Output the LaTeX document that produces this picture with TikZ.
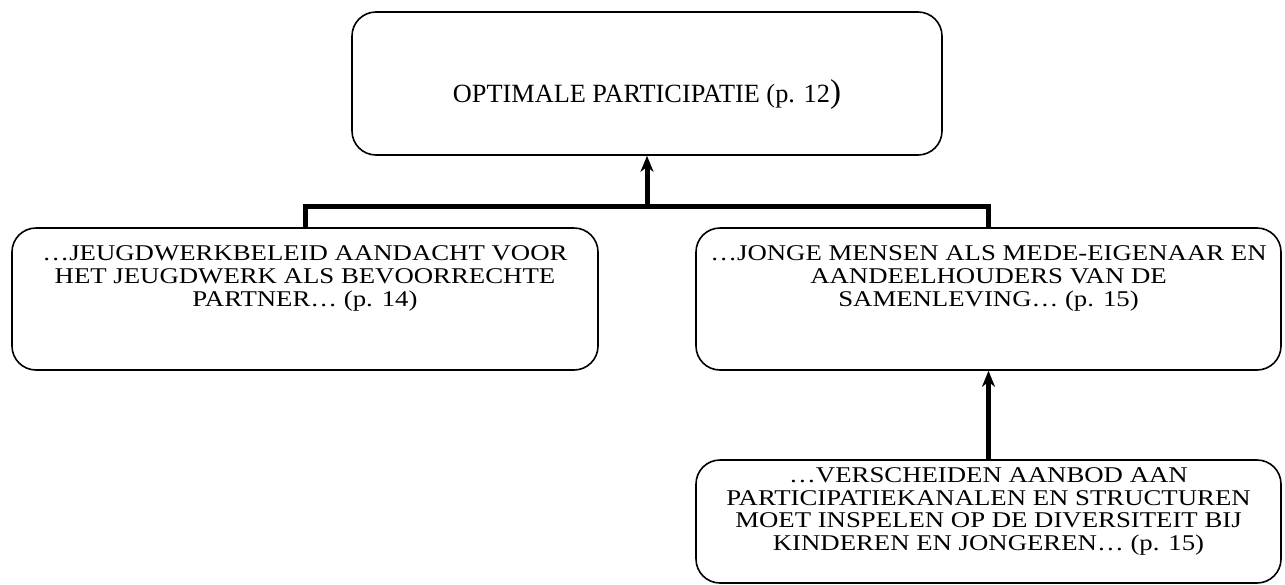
\documentclass[tikz,border=0pt]{standalone}
\usepackage{fontspec}
\setmainfont{Liberation Serif}
\newfontfamily\boxfont[FakeStretch=1.19]{Liberation Serif}
\usetikzlibrary{arrows.meta}
\begin{document}
\begin{tikzpicture}[x=1pt,y=-1pt,
  card/.style={draw,line width=1.6pt,rounded corners=24pt,inner sep=0pt},
  txt/.style={align=center,anchor=north,inner sep=0pt,font=\boxfont\fontsize{22.5}{23.3}\selectfont},
  link/.style={line width=5pt,line join=miter},
  up/.style={link,-{Stealth[length=16pt,width=13pt,inset=5pt]}}]
\useasboundingbox (0,0) rectangle (1285,584);

% boxes
\node[card,minimum width=590pt,minimum height=143pt] (top) at (647,83.5) {};
\node[card,minimum width=586pt,minimum height=142pt] (left) at (305,299) {};
\node[card,minimum width=585pt,minimum height=142pt] (right) at (988.5,299) {};
\node[card,minimum width=585pt,minimum height=123pt] (bot) at (988.5,521.5) {};

% texts
\node[anchor=base,inner sep=0pt,font=\fontsize{26.3}{28}\selectfont] (toptext) at ([yshift=-91pt]top.north)
  {OPTIMALE PARTICIPATIE (p. 12{\fontsize{33}{33}\selectfont )}};
\node[txt] (lefttext) at ([yshift=-18pt]left.north)
  {…JEUGDWERKBELEID AANDACHT VOOR\\HET JEUGDWERK ALS BEVOORRECHTE\\PARTNER… (p. 14)};
\node[txt] (righttext) at ([yshift=-18pt]right.north)
  {…JONGE MENSEN ALS MEDE-EIGENAAR EN\\AANDEELHOUDERS VAN DE\\SAMENLEVING… (p. 15)};
\node[txt,font=\boxfont\fontsize{22.5}{22.7}\selectfont] (bottext) at ([yshift=-8pt]bot.north)
  {…VERSCHEIDEN AANBOD AAN\\PARTICIPATIEKANALEN EN STRUCTUREN\\MOET INSPELEN OP DE DIVERSITEIT BIJ\\KINDEREN EN JONGEREN… (p. 15)};

% connectors
\coordinate (join) at (647,206);
\draw[link] (left.north) -- (left.north |- join) -- (right.north |- join) -- (right.north);
\draw[up] (join) -- (top.south);
\draw[up] (bot.north) -- (right.south);
\end{tikzpicture}
\end{document}
